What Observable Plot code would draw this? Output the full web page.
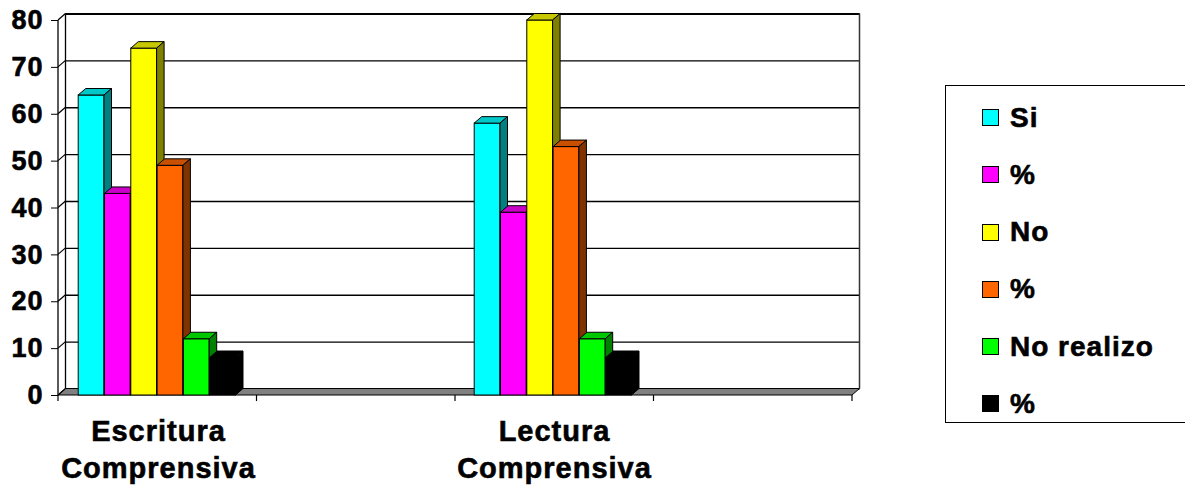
<!DOCTYPE html>
<html><head><meta charset="utf-8">
<script src="https://cdn.jsdelivr.net/npm/d3@7"></script>
<script src="https://cdn.jsdelivr.net/npm/@observablehq/plot@0.6"></script>
<style>
body{margin:0;background:#fff;}
#wrap{position:relative;width:1185px;height:491px;overflow:hidden;font-family:"Liberation Sans",Arial,sans-serif;background:#fff;}
#wrap svg{position:absolute;left:0;top:0;}
#wrap svg text{stroke:#000;stroke-width:0.6px;paint-order:stroke;}
#legend{position:absolute;left:945px;top:85px;width:300px;height:338px;border:1.5px solid #000;box-sizing:border-box;background:#fff;}
.row{position:absolute;left:36px;display:flex;align-items:center;height:34px;}
.sw{width:15px;height:15px;border:1px solid #000;margin-right:11px;flex:none;}
.lb{font-weight:bold;font-size:28px;letter-spacing:1px;color:#000;line-height:34px;white-space:nowrap;-webkit-text-stroke:0.6px #000;}
</style></head><body><div id="wrap"></div>
<script>
// ---- data ----
const categories = ["Escritura Comprensiva", "", "Lectura Comprensiva", ""];
const seriesNames = ["Si", "%", "No", "%", "No realizo", "%"];
const escritura = [64, 43, 74, 49, 12, 8];
const lectura = [58, 39, 80, 53, 12, 8];
const yTicks = [0, 10, 20, 30, 40, 50, 60, 70, 80];
const seriesColors = ["#00FFFF", "#FF00FF", "#FFFF00", "#FF6600", "#00FF00", "#000000"];
const topColors = ["#00C8C8", "#C800C8", "#C8C800", "#C85000", "#00C800", "#000000"];
const sideColors = ["#008080", "#800080", "#808000", "#803300", "#008000", "#000000"];

// ---- layout ----
const W = 1185, H = 491, ML = 58, MR = 333, MT = 20, MB = 96;
const DX = 7.5, DY = -6.5;
const slotPad = 19.2, barW = 26.3;
const slots = categories.map((c, i) => i);
const valuesBySlot = [[0, escritura], [2, lectura]];
const rows = [];
for (const [slot, vals] of valuesBySlot) vals.forEach((v, s) => rows.push({slot, s, value: v}));
const bandW = (W - ML - MR) / slots.length;

const barMarks = seriesNames.map((name, s) => Plot.barY(rows.filter(r => r.s === s), {
  x: "slot", y: "value", fill: seriesColors[s], stroke: "#000", strokeWidth: 1,
  insetLeft: slotPad + s * barW, insetRight: bandW - slotPad - (s + 1) * barW
}));

const plot = Plot.plot({
  width: W, height: H,
  marginLeft: ML, marginRight: MR, marginTop: MT, marginBottom: MB,
  x: {type: "band", domain: slots, padding: 0, axis: null},
  y: {domain: [0, 80]},
  style: {fontFamily: "'Liberation Sans', Arial, sans-serif", fontWeight: "bold", letterSpacing: "1px", background: "white", overflow: "visible", color: "#000"},
  marks: [
    Plot.ruleY(yTicks, {dx: DX, dy: DY, stroke: "#000", strokeWidth: 1.3}),
    Plot.ruleY([80], {dx: DX, dy: DY, stroke: "#000", strokeWidth: 2.2}),
    ...barMarks,
    Plot.axisY({ticks: yTicks, tickSize: 7, tickPadding: 8, fontSize: 27, fontWeight: "bold", label: null, stroke: "#000", fill: "#000"}),
    Plot.text(slots.filter(i => categories[i]), {
      x: d => d, y: () => 0, text: i => categories[i].replace(" ", "\n"),
      lineAnchor: "top", dy: 20, fontSize: 29, fontWeight: "bold", lineHeight: 1.255, fill: "#000"
    })
  ]
});

// ---- 3D decoration derived from Plot's scales ----
const ns = "http://www.w3.org/2000/svg";
const ysc = plot.scale("y"), xsc = plot.scale("x");
const y = v => ysc.apply(v);
const x0 = xsc.range[0], x1 = xsc.range[1];
const bw = (x1 - x0) / slots.length;
function el(tag, attrs, parent) {
  const e = document.createElementNS(ns, tag);
  for (const k in attrs) e.setAttribute(k, attrs[k]);
  parent.appendChild(e);
  return e;
}
const pts = a => a.map(p => p.join(",")).join(" ");
const barGroups = plot.querySelectorAll('g[aria-label="bar"]');
const bg = document.createElementNS(ns, "g");
barGroups[0].parentNode.insertBefore(bg, barGroups[0]);
const yb = y(0), yt = y(80);
// floor
el("polygon", {points: pts([[x0, yb], [x1, yb], [x1 + DX, yb + DY], [x0 + DX, yb + DY]]), fill: "#808080", stroke: "#000", "stroke-width": 1}, bg);
// walls
el("line", {x1: x0, y1: yt, x2: x0, y2: yb, stroke: "#000", "stroke-width": 1.3}, bg);
el("line", {x1: x0 + DX, y1: yt + DY, x2: x0 + DX, y2: yb + DY, stroke: "#000", "stroke-width": 1.3}, bg);
el("line", {x1: x1 + DX, y1: yt + DY, x2: x1 + DX, y2: yb + DY, stroke: "#333", "stroke-width": 1.5}, bg);
for (const t of yTicks) el("line", {x1: x0, y1: y(t), x2: x0 + DX, y2: y(t) + DY, stroke: "#000", "stroke-width": 1.2}, bg);
for (let i = 0; i <= slots.length; i++) {
  const xb = x0 + i * bw;
  el("line", {x1: xb, y1: yb, x2: xb, y2: yb + 6, stroke: "#000", "stroke-width": 1.2}, bg);
}
// bar tops and sides
barGroups.forEach((g, s) => {
  g.querySelectorAll("rect").forEach(r => {
    const rx = +r.getAttribute("x"), ry = +r.getAttribute("y");
    const rw = +r.getAttribute("width"), rh = +r.getAttribute("height");
    const xl = rx, xr = rx + rw, t = ry, b = ry + rh;
    el("polygon", {points: pts([[xl, t], [xl + DX, t + DY], [xr + DX, t + DY], [xr, t]]), fill: topColors[s], stroke: "#000", "stroke-width": 1}, g);
    el("polygon", {points: pts([[xr, t], [xr + DX, t + DY], [xr + DX, b + DY], [xr, b]]), fill: sideColors[s], stroke: "#000", "stroke-width": 1}, g);
  });
});

const wrap = document.getElementById("wrap");
wrap.appendChild(plot);

// ---- legend ----
const legend = document.createElement("div");
legend.id = "legend";
seriesNames.forEach((name, s) => {
  const row = document.createElement("div");
  row.className = "row";
  row.style.top = (31.7 + 57.2 * s - 17) + "px";
  row.innerHTML = `<div class="sw" style="background:${seriesColors[s]}"></div><div class="lb">${name}</div>`;
  legend.appendChild(row);
});
wrap.appendChild(legend);
</script></body></html>
